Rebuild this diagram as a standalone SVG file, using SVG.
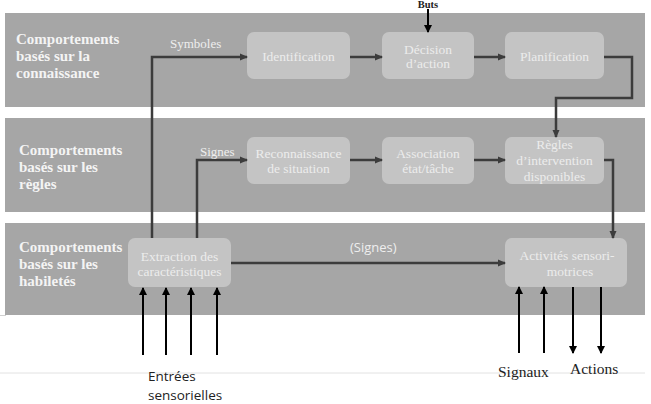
<svg xmlns="http://www.w3.org/2000/svg" width="651" height="404" viewBox="0 0 651 404">
<defs>
<marker id="ag" markerWidth="8" markerHeight="8" refX="7" refY="4" orient="auto" markerUnits="userSpaceOnUse"><path d="M0,0.5 L8,4 L0,7.5 Z" fill="#3c3c3c"/></marker>
<marker id="ab" markerWidth="8" markerHeight="10" refX="7" refY="4" orient="auto" markerUnits="userSpaceOnUse"><path d="M0,0 L8,4 L0,8 Z" fill="#000"/></marker>
<style>
.band{fill:#a6a6a6}
.box{fill:#c4c4c4}
.lbl{font-family:"Liberation Serif",serif;font-weight:bold;font-size:15px;fill:#f4f4f4}
.bt{font-family:"Liberation Serif",serif;font-size:13.5px;fill:#ececec;text-anchor:middle}
.ct{font-family:"Liberation Serif",serif;font-size:13px;fill:#eeeeee}
.g{fill:none;stroke:#3c3c3c;stroke-width:2.5;marker-end:url(#ag)}
.k{fill:none;stroke:#000;stroke-width:2;marker-end:url(#ab)}
.out{font-family:"Liberation Serif",serif;font-size:15.5px;fill:#222}
.in{font-family:"Open Sans",sans-serif;font-size:13.5px;fill:#222}
</style>
</defs>
<rect width="651" height="404" fill="#fff"/>
<line x1="0" y1="373" x2="645" y2="373" stroke="#e2e2e2" stroke-width="1"/>
<line x1="0" y1="315.5" x2="6" y2="315.5" stroke="#d0d0d0" stroke-width="1"/>
<g id="band1"><rect class="band" x="5" y="13" width="640" height="94"/>
<text class="lbl" x="16" y="44">Comportements</text><text class="lbl" x="16" y="61">basés sur la</text><text class="lbl" x="16" y="78">connaissance</text></g>
<g id="band2"><rect class="band" x="5" y="118" width="640" height="94"/>
<text class="lbl" x="19" y="155">Comportements</text><text class="lbl" x="19" y="172">basés sur les</text><text class="lbl" x="19" y="189">règles</text></g>
<g id="band3"><rect class="band" x="5" y="223" width="640" height="92"/>
<text class="lbl" x="19" y="252">Comportements</text><text class="lbl" x="19" y="269">basés sur les</text><text class="lbl" x="19" y="286">habiletés</text></g>
<g id="identification"><rect class="box" x="247" y="32" width="103" height="47" rx="7"/><text class="bt" x="298.5" y="61">Identification</text></g>
<g id="decision"><rect class="box" x="382" y="32" width="92" height="47" rx="7"/><text class="bt" x="428" y="54">Décision</text><text class="bt" x="428" y="68">d’action</text></g>
<g id="planification"><rect class="box" x="505" y="32" width="99" height="47" rx="7"/><text class="bt" x="554.5" y="61">Planification</text></g>
<g id="reconnaissance"><rect class="box" x="247" y="137" width="103" height="47" rx="7"/><text class="bt" x="298.5" y="158">Reconnaissance</text><text class="bt" x="298.5" y="173">de situation</text></g>
<g id="association"><rect class="box" x="382" y="137" width="92" height="47" rx="7"/><text class="bt" x="428" y="158">Association</text><text class="bt" x="428" y="173">état/tâche</text></g>
<g id="regles"><rect class="box" x="505" y="137" width="99" height="47" rx="7"/><text class="bt" x="554.5" y="149">Règles</text><text class="bt" x="554.5" y="165">d’intervention</text><text class="bt" x="554.5" y="181">disponibles</text></g>
<g id="extraction"><rect class="box" x="128" y="238" width="103" height="49" rx="7"/><text class="bt" x="179.5" y="261">Extraction des</text><text class="bt" x="179.5" y="276">caractéristiques</text></g>
<g id="activites"><rect class="box" x="505" y="238" width="122" height="49" rx="7"/><text class="bt" x="567" y="260">Activités sensori-</text><text class="bt" x="570" y="276">motrices</text></g>
<g id="connectors">
<path class="g" d="M152,238 V57 H247"/>
<path class="g" d="M197,238 V160 H247"/>
<path class="g" d="M350,57 H382"/>
<path class="g" d="M474,57 H505"/>
<path class="g" d="M604,57 H632 V98 H556 V137"/>
<path class="g" d="M350,160 H382"/>
<path class="g" d="M474,160 H505"/>
<path class="g" d="M604,160 H613 V238"/>
<path class="g" d="M231,263 H505"/>
<path class="k" d="M428,9 V32"/>
<path class="k" d="M143,355 V288"/>
<path class="k" d="M166,355 V288"/>
<path class="k" d="M191,355 V288"/>
<path class="k" d="M217,355 V288"/>
<path class="k" d="M519,353 V287"/>
<path class="k" d="M544,353 V287"/>
<path class="k" d="M573,287 V353"/>
<path class="k" d="M601,287 V353"/>
<text class="ct" x="170" y="48">Symboles</text>
<text class="ct" x="200" y="156">Signes</text>
<text x="350" y="252" font-family="'Open Sans',sans-serif" font-size="13" fill="#eeeeee">(Signes)</text>
</g>
<text x="428" y="8" font-family="'Liberation Serif',serif" font-weight="bold" font-size="10.5" fill="#222" text-anchor="middle">Buts</text>
<text class="in" x="148" y="381">Entrées</text>
<text class="in" x="148" y="400">sensorielles</text>
<text class="out" x="498" y="377">Signaux</text>
<text class="out" x="570" y="374">Actions</text>
</svg>
